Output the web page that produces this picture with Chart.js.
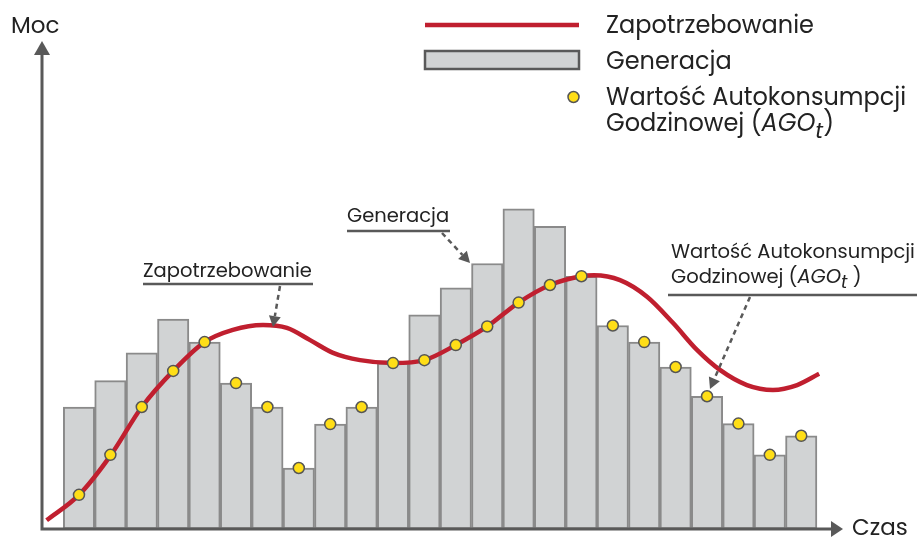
<!DOCTYPE html>
<html>
<head>
<meta charset="utf-8">
<script src="https://cdn.jsdelivr.net/npm/chart.js@4.4.1/dist/chart.umd.min.js"></script>
<style>
  html, body { margin: 0; padding: 0; background: #fff; }
  #wrap { width: 917px; height: 538px; position: relative; }
</style>
</head>
<body>
<div id="wrap"><canvas id="wykres"></canvas></div>
<script>
// godziny (środki słupków)
const godziny = [1, 2, 3, 4, 5, 6, 7, 8, 9, 10, 11, 12, 13, 14, 15, 16, 17, 18, 19, 20, 21, 22, 23, 24];
const generacja = [25.0, 30.4, 36.1, 43.0, 38.3, 29.9, 25.0, 12.5, 21.5, 25.0, 34.0, 43.9,
                   49.4, 54.4, 65.6, 62.0, 51.8, 41.7, 38.3, 33.2, 27.2, 21.6, 15.2, 19.1];
const ago = [7.0, 15.2, 25.0, 32.4, 38.3, 29.9, 25.0, 12.5, 21.5, 25.0, 34.0, 34.6,
             37.7, 41.5, 46.4, 50.0, 51.8, 41.7, 38.3, 33.2, 27.2, 21.6, 15.2, 19.1];
// krzywa zapotrzebowania
const zapX = [-0.03, 1.0, 2.02, 3.0, 4.0, 5.0, 5.9, 6.86, 7.62, 8.36, 9.09, 9.95, 11.0, 12.0,
              13.0, 14.0, 15.0, 16.0, 17.0, 17.4, 18.23, 19.09, 19.92, 20.68, 21.41, 22.27, 23.1, 23.87, 24.57];
const zapY = [1.8, 7.0, 15.2, 25.0, 32.4, 38.3, 40.8, 41.8, 41.2, 38.7, 36.1, 34.6, 34.0, 34.6,
              37.7, 41.5, 46.4, 50.0, 51.8, 52.0, 51.0, 47.6, 42.2, 36.7, 32.6, 29.5, 28.5, 29.5, 31.8];

const FONT = '"Poppins", "Inter", "Noto Sans", sans-serif';
const RED = '#c01f2f';
const AXIS = '#595959';
const TXT = '#222222';

function richText(ctx, x, y, parts, size) {
  let cx = x;
  parts.forEach(p => {
    const fs = p.sub ? size * 0.9 : size;
    ctx.font = (p.italic ? 'italic ' : '') + fs + 'px ' + FONT;
    ctx.fillText(p.t, cx, y + (p.sub ? size * 0.28 : 0));
    cx += ctx.measureText(p.t).width;
  });
}

function dashedArrow(ctx, x1, y1, x2, y2) {
  const ang = Math.atan2(y2 - y1, x2 - x1);
  const len = 11;
  const bx = x2 - Math.cos(ang) * len, by = y2 - Math.sin(ang) * len;
  ctx.save();
  ctx.strokeStyle = AXIS;
  ctx.fillStyle = AXIS;
  ctx.lineWidth = 2.5;
  ctx.setLineDash([5, 4]);
  ctx.beginPath();
  ctx.moveTo(x1, y1);
  ctx.lineTo(bx, by);
  ctx.stroke();
  ctx.setLineDash([]);
  ctx.beginPath();
  ctx.moveTo(x2, y2);
  ctx.lineTo(bx + Math.sin(ang) * 6, by - Math.cos(ang) * 6);
  ctx.lineTo(bx - Math.sin(ang) * 6, by + Math.cos(ang) * 6);
  ctx.closePath();
  ctx.fill();
  ctx.restore();
}

const dekoracje = {
  id: 'dekoracje',
  afterDatasetsDraw(chart) {
    const { ctx, chartArea: a } = chart;
    ctx.save();
    // osie ze strzałkami
    ctx.strokeStyle = AXIS;
    ctx.fillStyle = AXIS;
    ctx.lineWidth = 3;
    ctx.beginPath();
    ctx.moveTo(a.left, a.top + 13);
    ctx.lineTo(a.left, a.bottom);
    ctx.lineTo(a.right - 11, a.bottom);
    ctx.stroke();
    ctx.beginPath();
    ctx.moveTo(a.left, a.top);
    ctx.lineTo(a.left - 8, a.top + 14);
    ctx.lineTo(a.left + 8, a.top + 14);
    ctx.closePath();
    ctx.fill();
    ctx.beginPath();
    ctx.moveTo(a.right, a.bottom);
    ctx.lineTo(a.right - 12, a.bottom - 8);
    ctx.lineTo(a.right - 12, a.bottom + 8);
    ctx.closePath();
    ctx.fill();

    ctx.fillStyle = TXT;
    ctx.textBaseline = 'alphabetic';
    ctx.font = '23px ' + FONT;
    ctx.fillText('Moc', 11, 33);
    ctx.fillText('Czas', 852, 535);

    // legenda
    ctx.strokeStyle = RED;
    ctx.lineWidth = 4.5;
    ctx.beginPath();
    ctx.moveTo(425, 25);
    ctx.lineTo(579, 25);
    ctx.stroke();
    ctx.fillStyle = '#d1d3d4';
    ctx.fillRect(425, 51, 154, 18);
    ctx.strokeStyle = AXIS;
    ctx.lineWidth = 2.5;
    ctx.strokeRect(425, 51, 154, 18);
    ctx.beginPath();
    ctx.arc(573.5, 97, 5.5, 0, Math.PI * 2);
    ctx.fillStyle = '#ffde17';
    ctx.fill();
    ctx.lineWidth = 1.5;
    ctx.strokeStyle = '#555';
    ctx.stroke();

    ctx.fillStyle = TXT;
    ctx.font = '24px ' + FONT;
    ctx.fillText('Zapotrzebowanie', 606, 33);
    ctx.fillText('Generacja', 606, 69);
    ctx.fillText('Wartość Autokonsumpcji', 606, 105);
    richText(ctx, 606, 131, [{ t: 'Godzinowej (' }, { t: 'AGO', italic: true }, { t: 't', italic: true, sub: true }, { t: ')' }], 24);

    // adnotacje
    ctx.font = '19.5px ' + FONT;
    ctx.fillText('Zapotrzebowanie', 143, 277);
    ctx.fillText('Generacja', 347, 222);
    ctx.fillText('Wartość Autokonsumpcji', 671, 258);
    richText(ctx, 671, 283, [{ t: 'Godzinowej (' }, { t: 'AGO', italic: true }, { t: 't', italic: true, sub: true }, { t: ' )' }], 19.5);

    ctx.strokeStyle = AXIS;
    ctx.lineWidth = 2.5;
    ctx.beginPath();
    ctx.moveTo(143, 284); ctx.lineTo(313, 284);
    ctx.moveTo(347, 231); ctx.lineTo(450, 231);
    ctx.moveTo(668, 295); ctx.lineTo(917, 295);
    ctx.stroke();

    dashedArrow(ctx, 280, 286, 273, 327);
    dashedArrow(ctx, 442, 233, 470, 263);
    dashedArrow(ctx, 750, 297, 710, 389);
    ctx.restore();
  }
};

const ctx = document.getElementById('wykres').getContext('2d');
new Chart(ctx, {
  type: 'bar',
  data: {
    datasets: [
      {
        type: 'line',
        label: 'Wartość Autokonsumpcji Godzinowej',
        data: godziny.map((h, i) => ({ x: h, y: ago[i] })),
        showLine: false,
        pointRadius: 5.5,
        pointBackgroundColor: '#ffde17',
        pointBorderColor: '#555',
        pointBorderWidth: 1.5,
        order: 0
      },
      {
        type: 'line',
        label: 'Zapotrzebowanie',
        data: zapX.map((x, i) => ({ x, y: zapY[i] })),
        borderColor: RED,
        borderWidth: 4.5,
        pointRadius: 0,
        cubicInterpolationMode: 'monotone',
        borderCapStyle: 'butt',
        order: 1
      },
      {
        type: 'bar',
        label: 'Generacja',
        data: godziny.map((h, i) => ({ x: h, y: generacja[i] })),
        backgroundColor: '#d1d3d4',
        borderColor: '#8a8a8a',
        borderWidth: 2,
        borderSkipped: false,
        barPercentage: 1,
        categoryPercentage: 1,
        order: 2
      }
    ]
  },
  options: {
    responsive: true,
    maintainAspectRatio: false,
    animation: false,
    layout: { padding: { left: 42, right: 74, top: 41, bottom: 9 } },
    plugins: { legend: { display: false }, tooltip: { enabled: false } },
    scales: {
      x: { type: 'linear', min: -0.178, max: 25.33, offset: false, display: false },
      y: { min: 0, max: 100, display: false }
    }
  },
  plugins: [dekoracje]
});
</script>
</body>
</html>
